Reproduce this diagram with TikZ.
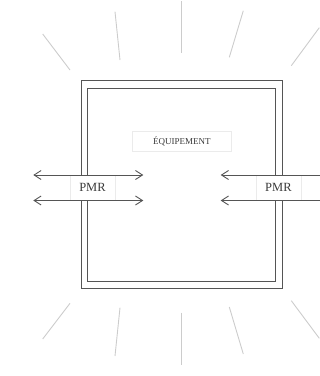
\documentclass[tikz,border=0pt]{standalone}
\usepackage{fontspec}
\setmainfont{Liberation Serif}
\usetikzlibrary{arrows.meta}
\definecolor{boxc}{HTML}{555555}
\definecolor{rayc}{HTML}{CCCCCC}
\definecolor{lblc}{HTML}{EBEBEB}
\definecolor{txtc}{HTML}{3A3A3A}
\tikzset{barb/.tip={Straight Barb[length=7pt,width=9pt]}}
\begin{document}
\begin{tikzpicture}[x=1pt,y=-1pt,
  wall/.style={draw=boxc,line width=1pt,inner sep=0pt,outer sep=0pt},
  ray/.style={draw=rayc,line width=0.9pt},
  arr/.style={draw=boxc,line width=0.9pt},
  lbl/.style={draw=lblc,fill=white,line width=0.6pt,inner sep=0pt,text=txtc},
  pmr/.style={lbl,minimum width=45pt,minimum height=25pt,font=\fontsize{12.5}{14}\selectfont}
]
\useasboundingbox (0,0) rectangle (320,376);
% rays
\draw[ray] (42.7,34) -- (70,70);
\draw[ray] (115,11.7) -- (120,60);
\draw[ray] (181.7,1) -- (181.7,53.3);
\draw[ray] (243.3,10.7) -- (229.3,57.3);
\draw[ray] (319.3,27.7) -- (291.3,65.7);
\draw[ray] (70,303.3) -- (42.7,339);
\draw[ray] (120,307.7) -- (115,356);
\draw[ray] (181.7,312.7) -- (181.7,365);
\draw[ray] (229.3,307) -- (243.3,354);
\draw[ray] (291.3,300.7) -- (319.3,338.3);
% walls
\node[wall,minimum width=201pt,minimum height=207.3pt] (outer) at (181.5,184.35) {};
\node[wall,minimum width=187.6pt,minimum height=193pt] (inner) at (181.5,184.5) {};
% labels
\node[lbl,minimum width=99.5pt,minimum height=20pt,font=\fontsize{9}{10}\selectfont] (equip) at (181.8,141) {ÉQUIPEMENT};
\node[pmr] (pmrl) at (92.5,187.8) {PMR};
\node[pmr] (pmrr) at (278.4,187.8) {PMR};
% arrows
\coordinate (la1) at (33.3,175);
\coordinate (la2) at (143.3,175);
\coordinate (lb1) at (33.3,200.5);
\coordinate (lb2) at (143.3,200.5);
\coordinate (ra1) at (220.7,175);
\coordinate (ra2) at (321,175);
\coordinate (rb1) at (220.7,200.5);
\coordinate (rb2) at (321,200.5);
\draw[arr,barb-barb] (la1) -- (la2);
\draw[arr,barb-barb] (lb1) -- (lb2);
\draw[arr,barb-] (ra1) -- (ra2);
\draw[arr,barb-] (rb1) -- (rb2);
\end{tikzpicture}
\end{document}
